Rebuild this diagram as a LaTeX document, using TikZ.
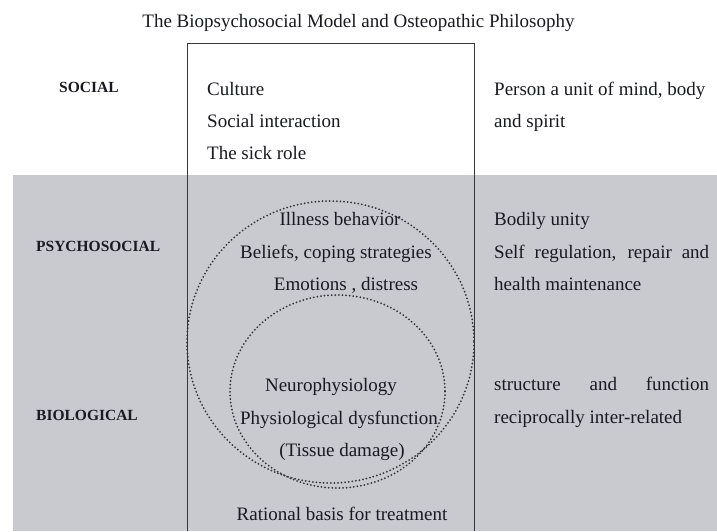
\documentclass[tikz,border=0pt]{standalone}
\usepackage{fontspec}
\setmainfont{Liberation Serif}
\begin{document}
\begin{tikzpicture}[x=1pt,y=-1pt,
  txt/.style={inner sep=0pt,text=textcol,font=\fontsize{19}{23}\selectfont},
  lft/.style={txt,anchor=base west},
  ctr/.style={txt,anchor=base},
  lvl/.style={inner sep=0pt,anchor=base west,text=textcol,font=\fontsize{15.5}{19}\selectfont\bfseries},
  dots/.style={draw=dotcol,line width=2pt,line cap=round,dash pattern=on 0pt off 3.6pt}]
\definecolor{graybg}{RGB}{200,202,207}
\definecolor{textcol}{RGB}{25,25,35}
\definecolor{linecol}{RGB}{55,55,55}
\definecolor{dotcol}{RGB}{50,50,60}
\useasboundingbox (0,0) rectangle (717,531);
\fill[graybg] (13,175) rectangle (717,531);
\draw[linecol,line width=1pt] (187,531) -- (187,43) -- (474,43) -- (474,531);
% circles
\draw[dots] (330.5,342) ellipse [x radius=143.5, y radius=141];
\draw[dots] (337.5,391.5) ellipse [x radius=107.5, y radius=96.5];
% title
\node[ctr] (title) at (358.5,27) {The Biopsychosocial Model and Osteopathic Philosophy};
% level labels
\node[lvl] (social) at (59,92) {SOCIAL};
\node[lvl] (psycho) at (36,251) {PSYCHOSOCIAL};
\node[lvl] (bio) at (36,420) {BIOLOGICAL};
% social row
\node[lft] (c1) at (207,95) {Culture};
\node[lft] (c2) at (207,127) {Social interaction};
\node[lft] (c3) at (207,159) {The sick role};
\node[lft] (r1) at (494,95) {Person a unit of mind, body};
\node[lft] (r2) at (494,127) {and spirit};
% psychosocial row
\node[ctr] (p1) at (340,225) {Illness behavior};
\node[ctr] (p2) at (336,258) {Beliefs, coping strategies};
\node[ctr] (p3) at (346,290) {Emotions , distress};
\node[lft] (q1) at (494,225) {Bodily unity};
\node[lft] (q2) at (494,258) {\makebox[215pt][s]{Self regulation, repair and}};
\node[lft] (q3) at (494,290) {health maintenance};
% biological row
\node[ctr] (b1) at (331,391) {Neurophysiology};
\node[ctr] (b2) at (339,424) {Physiological dysfunction};
\node[ctr] (b3) at (342,456) {(Tissue damage)};
\node[lft] (s1) at (494,390) {\makebox[215pt][s]{structure and function}};
\node[lft] (s2) at (494,423) {reciprocally inter-related};
% bottom
\node[ctr] (rb) at (342,520) {Rational basis for treatment};
\end{tikzpicture}
\end{document}
